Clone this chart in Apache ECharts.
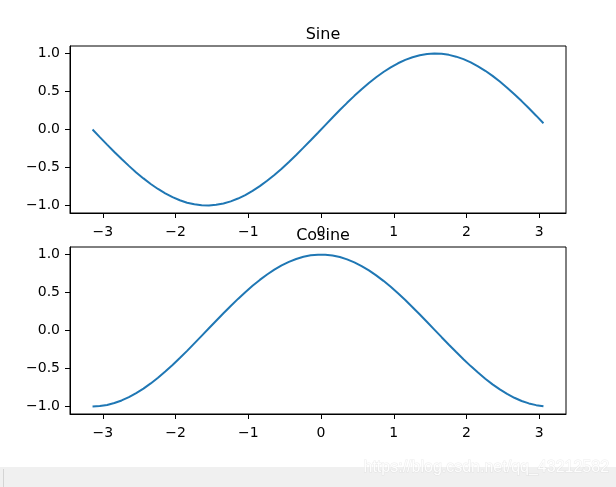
<!DOCTYPE html>
<html>
<head>
<meta charset="utf-8">
<script src="https://cdn.jsdelivr.net/npm/echarts@6/dist/echarts.min.js"></script>
<style>
html,body{margin:0;padding:0;background:#fff;}
#c{width:616px;height:487px;}
</style>
</head>
<body>
<div id="c"></div>
<script>
// x samples (radians)
var xs = [-3.142,-3.042,-2.942,-2.842,-2.742,-2.642,-2.542,-2.442,-2.342,-2.242,-2.142,-2.042,-1.942,-1.842,-1.742,-1.642,-1.542,-1.442,-1.342,-1.242,-1.142,-1.042,-0.942,-0.842,-0.742,-0.642,-0.542,-0.442,-0.342,-0.242,-0.142,-0.042,0.058,0.158,0.258,0.358,0.458,0.558,0.658,0.758,0.858,0.958,1.058,1.158,1.258,1.358,1.458,1.558,1.658,1.758,1.858,1.958,2.058,2.158,2.258,2.358,2.458,2.558,2.658,2.758,2.858,2.958,3.058];
var sineVals = [0,-0.100,-0.199,-0.296,-0.389,-0.479,-0.565,-0.644,-0.717,-0.783,-0.841,-0.891,-0.932,-0.964,-0.985,-0.997,-1.000,-0.992,-0.974,-0.946,-0.909,-0.863,-0.808,-0.746,-0.675,-0.598,-0.516,-0.427,-0.335,-0.239,-0.141,-0.042,0.058,0.158,0.256,0.351,0.443,0.530,0.612,0.688,0.757,0.818,0.872,0.916,0.952,0.978,0.994,1.000,0.996,0.983,0.959,0.926,0.884,0.832,0.773,0.706,0.631,0.551,0.465,0.374,0.279,0.182,0.083];
var cosineVals = [-1.000,-0.995,-0.980,-0.955,-0.921,-0.878,-0.825,-0.765,-0.697,-0.622,-0.540,-0.454,-0.362,-0.268,-0.170,-0.071,0.029,0.129,0.227,0.323,0.416,0.505,0.589,0.666,0.737,0.801,0.857,0.904,0.942,0.971,0.990,0.999,0.998,0.988,0.967,0.937,0.897,0.848,0.791,0.726,0.654,0.575,0.490,0.401,0.307,0.211,0.112,0.012,-0.088,-0.187,-0.284,-0.378,-0.469,-0.554,-0.635,-0.709,-0.776,-0.835,-0.886,-0.928,-0.960,-0.983,-0.997];
var xTicks = [-3,-2,-1,0,1,2,3];
var yTicks = [-1.0,-0.5,0.0,0.5,1.0];
var titles = ['Sine','Cosine'];

var FONT = 'DejaVu Sans';
function pairs(ys){ return xs.map(function(x,i){ return [x, ys[i]]; }); }
function minus(s){ return String(s).replace('-', '\u2212'); }

function xAxisFor(idx){
  return {
    gridIndex: idx, type: 'value', min: -3.452, max: 3.368,
    splitLine: {show:false},
    axisLine: {show:true, onZero:false, lineStyle:{color:'#000', width:1}},
    axisTick: {show:true, length:5, lineStyle:{color:'#000', width:1}, customValues: xTicks},
    axisLabel: {show:true, margin:12, color:'#000', fontFamily:FONT, fontSize:14,
      customValues: xTicks, formatter: function(v){ return minus(Math.round(v)); }}
  };
}
function yAxisFor(idx){
  return {
    gridIndex: idx, type: 'value', min: -1.0995, max: 1.0995,
    splitLine: {show:false},
    axisLine: {show:true, onZero:false, lineStyle:{color:'#000', width:1}},
    axisTick: {show:true, length:5, lineStyle:{color:'#000', width:1}, customValues: yTicks},
    axisLabel: {show:true, margin:10, color:'#000', fontFamily:FONT, fontSize:14,
      customValues: yTicks, formatter: function(v){ return minus(v.toFixed(1)); }}
  };
}

var chart = echarts.init(document.getElementById('c'), null, {renderer:'canvas'});
chart.setOption({
  animation: false,
  backgroundColor: '#fff',
  title: [
    {text: titles[0], left: 318, top: 22, textAlign: 'center',
     textStyle:{fontFamily:FONT, fontSize:16, fontWeight:'normal', color:'#000'}},
    {text: titles[1], left: 318, top: 223, textAlign: 'center',
     textStyle:{fontFamily:FONT, fontSize:16, fontWeight:'normal', color:'#000'}}
  ],
  grid: [
    {left:70, top:46, width:496, height:167, show:true, borderColor:'#000', borderWidth:1, backgroundColor:'transparent'},
    {left:70, top:247, width:496, height:167, show:true, borderColor:'#000', borderWidth:1, backgroundColor:'transparent'}
  ],
  xAxis: [xAxisFor(0), xAxisFor(1)],
  yAxis: [yAxisFor(0), yAxisFor(1)],
  series: [
    {type:'line', xAxisIndex:0, yAxisIndex:0, data: pairs(sineVals), showSymbol:false, symbol:'none',
     lineStyle:{color:'#1f77b4', width:2}, itemStyle:{color:'#1f77b4'}},
    {type:'line', xAxisIndex:1, yAxisIndex:1, data: pairs(cosineVals), showSymbol:false, symbol:'none',
     lineStyle:{color:'#1f77b4', width:2}, itemStyle:{color:'#1f77b4'}}
  ],
  graphic: [
    {type:'rect', left:0, top:467, shape:{x:0,y:0,width:616,height:20}, style:{fill:'#f0f0f0'}, z:10},
    {type:'rect', left:3, top:469, shape:{x:0,y:0,width:1,height:18}, style:{fill:'#d4d4d4'}, z:11},
    {type:'text', left:363, top:459, z:12,
     style:{text:'https://blog.csdn.net/qq_43212582', fontFamily:'Liberation Sans', fontSize:16,
       fill:'rgba(255,255,255,0.9)', stroke:'rgba(200,200,200,0.35)', lineWidth:1}}
  ]
});
</script>
</body>
</html>
